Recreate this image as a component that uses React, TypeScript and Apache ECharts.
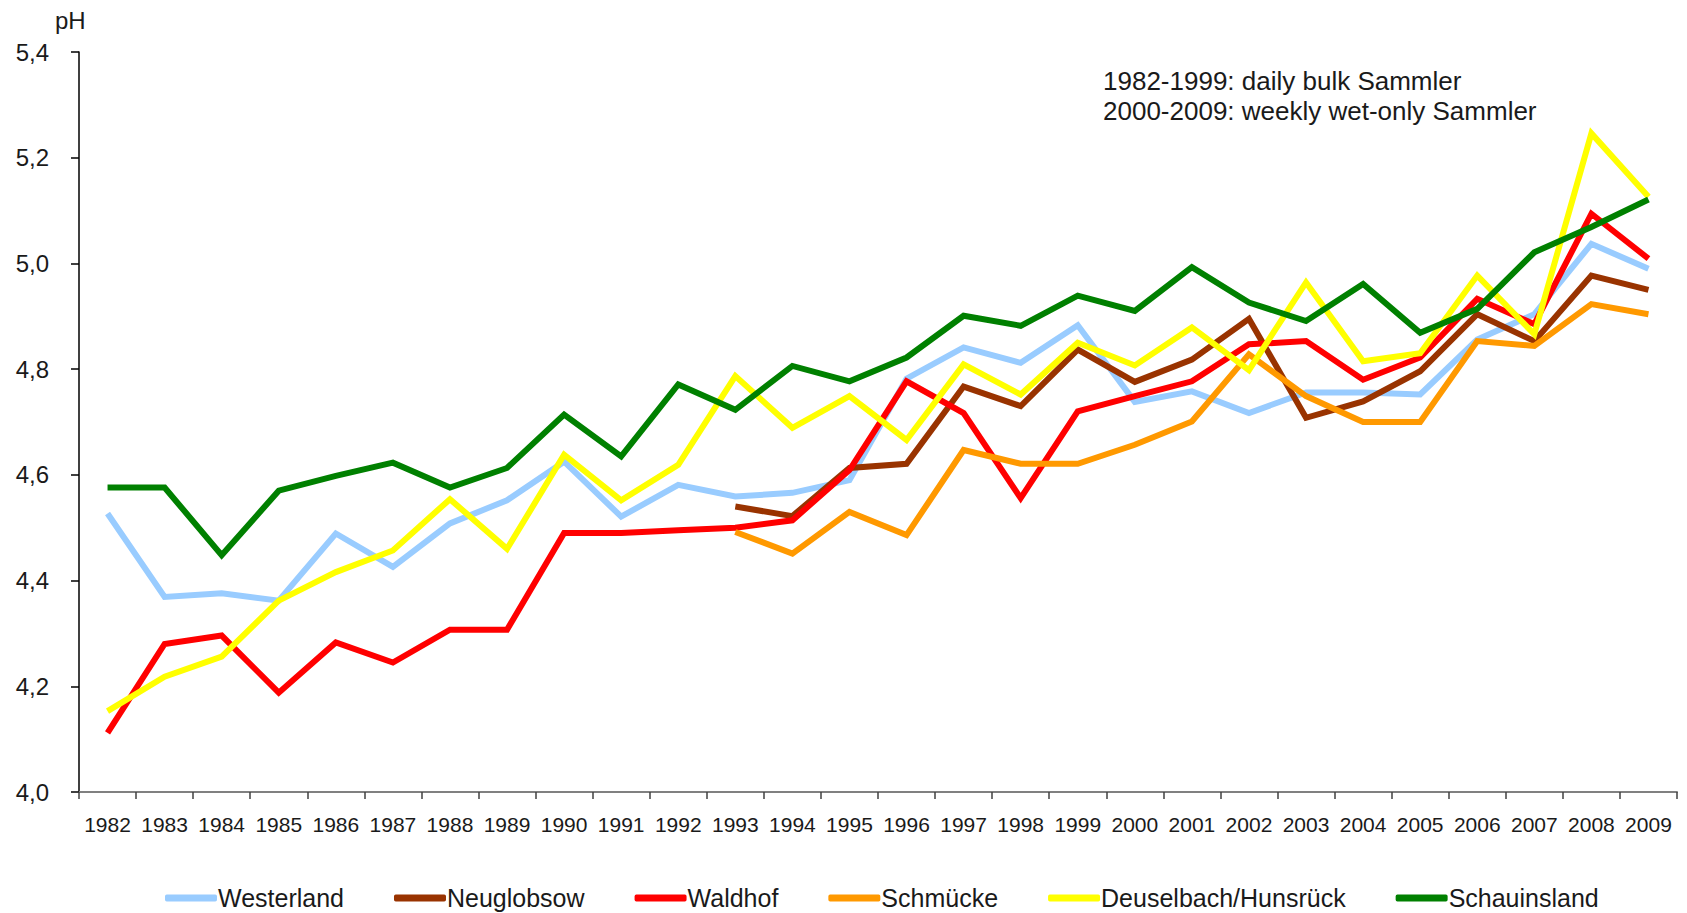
import React, { useEffect, useRef } from "react";
import * as echarts from "echarts";

const years = ["1982","1983","1984","1985","1986","1987","1988","1989","1990","1991","1992","1993","1994","1995","1996","1997","1998","1999","2000","2001","2002","2003","2004","2005","2006","2007","2008","2009"];

const westerland = [4.527,4.369,4.376,4.362,4.489,4.426,4.508,4.552,4.625,4.521,4.581,4.559,4.566,4.59,4.782,4.841,4.812,4.883,4.738,4.758,4.717,4.756,4.756,4.752,4.856,4.904,5.037,4.99];
const neuglobsow = [null,null,null,null,null,null,null,null,null,null,null,4.54,4.522,4.613,4.621,4.767,4.73,4.837,4.776,4.818,4.895,4.708,4.739,4.796,4.904,4.853,4.977,4.95];
const waldhof = [4.112,4.28,4.296,4.188,4.283,4.245,4.307,4.307,4.49,4.49,4.495,4.5,4.514,4.609,4.777,4.717,4.556,4.72,4.749,4.777,4.847,4.853,4.78,4.822,4.933,4.885,5.094,5.009];
const schmuecke = [null,null,null,null,null,null,null,null,null,null,null,4.492,4.451,4.53,4.486,4.647,4.621,4.621,4.657,4.701,4.828,4.749,4.7,4.7,4.853,4.844,4.923,4.904];
const deuselbach = [4.153,4.218,4.256,4.362,4.416,4.457,4.554,4.46,4.638,4.552,4.619,4.787,4.689,4.749,4.666,4.809,4.752,4.85,4.807,4.879,4.798,4.964,4.815,4.83,4.977,4.866,5.246,5.126];
const schauinsland = [4.576,4.576,4.448,4.57,4.598,4.623,4.576,4.613,4.714,4.635,4.771,4.723,4.806,4.777,4.822,4.901,4.882,4.939,4.91,4.993,4.926,4.891,4.961,4.869,4.914,5.021,5.069,5.121];

const seriesNames = ["Westerland","Neuglobsow","Waldhof","Schmücke","Deuselbach/Hunsrück","Schauinsland"];
const seriesData = [westerland, neuglobsow, waldhof, schmuecke, deuselbach, schauinsland];
const seriesColors = ["#99CCFF","#993300","#FF0000","#FF9900","#FFFF00","#008000"];

const noteLines = ["1982-1999: daily bulk Sammler","2000-2009: weekly wet-only Sammler"];

const FONT = "'Liberation Sans', Arial, sans-serif";
const TXT = "#1a1a1a";

export default function App() {
  const ref = useRef<HTMLDivElement>(null);
  useEffect(() => {
    if (!ref.current) return;
    const chart = echarts.init(ref.current, undefined, { renderer: "svg" });
    chart.setOption({
      animation: false,
      backgroundColor: "#ffffff",
      grid: { left: 79, right: 10, top: 52, bottom: 121, containLabel: false },
      xAxis: {
        type: "category",
        data: years,
        boundaryGap: true,
        axisLine: { show: true, lineStyle: { color: "#808080", width: 2 } },
        axisTick: { show: true, inside: false, length: 7, alignWithLabel: false, lineStyle: { color: "#404040", width: 1.5 } },
        axisLabel: { color: TXT, fontSize: 21, fontFamily: FONT, margin: 22, interval: 0 },
        splitLine: { show: false },
      },
      yAxis: {
        type: "value",
        min: 4.0,
        max: 5.4,
        interval: 0.2,
        axisLine: { show: true, onZero: false, lineStyle: { color: "#000000", width: 1.5 } },
        axisTick: { show: true, inside: false, length: 8, lineStyle: { color: "#000000", width: 1.5 } },
        axisLabel: {
          color: TXT, fontSize: 24, fontFamily: FONT, margin: 30,
          formatter: (v: number) => v.toFixed(1).replace(".", ","),
        },
        splitLine: { show: false },
      },
      legend: {
        data: seriesNames,
        left: 165,
        top: 885,
        padding: 0,
        itemWidth: 52,
        itemHeight: 7,
        itemGap: 50,
        icon: "roundRect",
        textStyle: { color: TXT, fontSize: 25, lineHeight: 26, fontFamily: FONT, padding: [0, 0, 0, -4] },
      },
      graphic: [
        { type: "text", left: 55, top: 8, style: { text: "pH", fill: TXT, font: `24px ${FONT}` } },
        { type: "text", left: 1103, top: 68, style: { text: noteLines[0], fill: TXT, font: `26px ${FONT}` } },
        { type: "text", left: 1103, top: 98, style: { text: noteLines[1], fill: TXT, font: `26px ${FONT}` } },
      ],
      series: seriesNames.map((name, i) => ({
        name,
        type: "line",
        data: seriesData[i],
        color: seriesColors[i],
        showSymbol: false,
        symbol: "none",
        connectNulls: false,
        lineStyle: { width: 6, color: seriesColors[i], join: "miter" },
        z: 2 + i,
      })),
    });
    return () => chart.dispose();
  }, []);
  return <div ref={ref} style={{ position: "fixed", left: 0, top: 0, width: 1687, height: 913, background: "#fff" }} />;
}
